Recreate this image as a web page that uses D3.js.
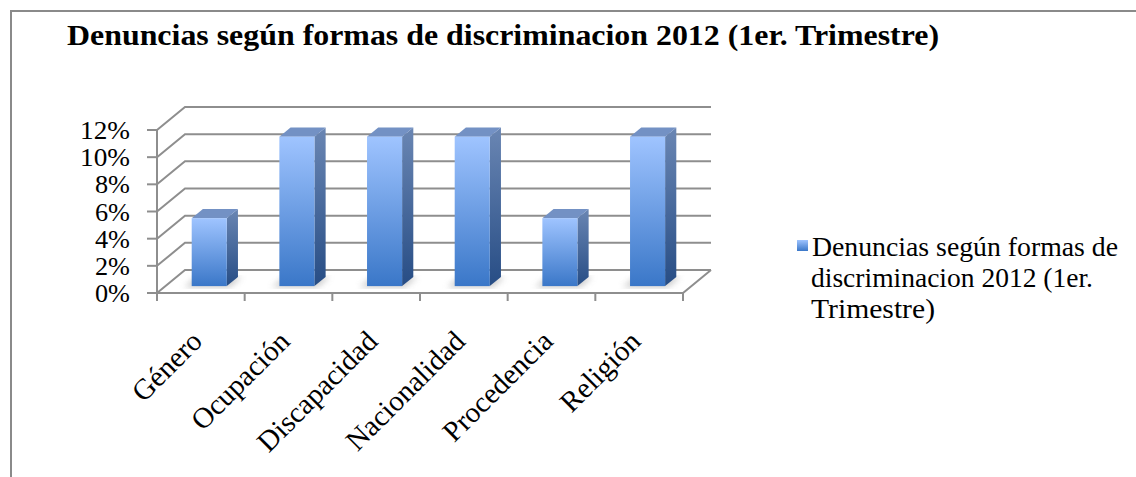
<!DOCTYPE html>
<html>
<head>
<meta charset="utf-8">
<script src="https://cdn.jsdelivr.net/npm/d3@7.9.0/dist/d3.min.js"></script>
<style>
  body { margin: 0; background: #fff; }
  svg { display: block; }
  svg text { font-family: "Liberation Serif", "DejaVu Serif", serif; fill: #000; }
</style>
</head>
<body>
<svg id="chart" width="1136" height="477"></svg>
<script>
const categories = ["Género", "Ocupación", "Discapacidad", "Nacionalidad", "Procedencia", "Religión"];
const values = [0.05, 0.11, 0.11, 0.11, 0.05, 0.11];
const yTicks = [0, 0.02, 0.04, 0.06, 0.08, 0.10, 0.12];
const title = "Denuncias según formas de discriminacion 2012 (1er. Trimestre)";
const legendLines = ["Denuncias según formas de", "discriminacion 2012 (1er.", "Trimestre)"];

const svg = d3.select("#chart");

// depth of the 3d box
const DX = 28, DY = 23;
const f0 = 0.3, f1 = 0.7;

const x = d3.scaleBand().domain(categories).range([157, 683]).paddingInner(0.6).paddingOuter(0.3);
const y = d3.scaleLinear().domain([0, 0.12]).range([293, 130]);
const p = (px, py, f) => [px + f * DX, py - f * DY];
const poly = pts => pts.map(d => d.join(",")).join(" ");

const defs = svg.append("defs");
function grad(id, c1, c2) {
  const g = defs.append("linearGradient").attr("id", id).attr("x1", 0).attr("y1", 0).attr("x2", 0).attr("y2", 1);
  g.append("stop").attr("offset", "0%").attr("stop-color", c1);
  g.append("stop").attr("offset", "100%").attr("stop-color", c2);
}
grad("front", "#9fc4ff", "#3a77c8");
grad("side", "#6a86b3", "#274d85");
defs.append("filter").attr("id", "blur").append("feGaussianBlur").attr("stdDeviation", 3);

// frame
svg.append("rect").attr("x", 11).attr("y", 11).attr("width", 1200).attr("height", 520)
  .attr("fill", "none").attr("stroke", "#8a8a8a").attr("stroke-width", 2);

svg.append("text").attr("x", 67).attr("y", 45)
  .attr("font-size", 29).attr("font-weight", "bold")
  .attr("textLength", 872).attr("lengthAdjust", "spacingAndGlyphs")
  .text(title);

const grid = svg.append("g").attr("stroke", "#8e8e8e").attr("stroke-width", 2).attr("fill", "none");
const [x0, x1] = x.range();

// back wall + left wall lines
yTicks.forEach(t => {
  const a = p(x0, y(t), 0), b = p(x0, y(t), 1), c = p(x1, y(t), 1);
  grid.append("polyline").attr("points", poly([a, b, c]));
  grid.append("line").attr("x1", x0 - 10).attr("x2", x0).attr("y1", y(t)).attr("y2", y(t));
});
// floor
grid.append("polyline").attr("points", poly([p(x0, y(0), 0), p(x1, y(0), 0), p(x1, y(0), 1)]));
grid.append("line").attr("x1", x0).attr("x2", x0).attr("y1", y(0.12)).attr("y2", y(0) + 8);
// category ticks
d3.range(categories.length + 1).forEach(i => {
  const tx = x0 + i * x.step();
  grid.append("line").attr("x1", tx).attr("x2", tx).attr("y1", y(0)).attr("y2", y(0) + 8);
});

// y labels
svg.append("g").selectAll("text").data(yTicks).join("text")
  .attr("x", 130).attr("y", d => y(d) + 9)
  .attr("text-anchor", "end").attr("font-size", 26)
  .attr("textLength", d => d >= 0.1 ? 50 : 35).attr("lengthAdjust", "spacingAndGlyphs")
  .text(d3.format(".0%"));

// bars
const bars = svg.append("g");
categories.forEach((c, i) => {
  const bx = x(c), w = x.bandwidth(), top = y(values[i]), bot = y(0);
  // shadow on floor
  bars.append("polygon")
    .attr("points", poly([p(bx - 6, bot, f0 - 0.05), p(bx + w + 4, bot, f0 - 0.05), p(bx + w + 4, bot, f1), p(bx - 6, bot, f1)]))
    .attr("fill", "#bbbbbb").attr("filter", "url(#blur)").attr("opacity", 0.8);
  bars.append("polygon")
    .attr("points", poly([p(bx + w, top, f0), p(bx + w, top, f1), p(bx + w, bot, f1), p(bx + w, bot, f0)]))
    .attr("fill", "url(#side)");
  bars.append("polygon")
    .attr("points", poly([p(bx, top, f0), p(bx + w, top, f0), p(bx + w, top, f1), p(bx, top, f1)]))
    .attr("fill", "#7391c4");
  const fa = p(bx, top, f0), fb = p(bx + w, bot, f0);
  bars.append("rect").attr("x", fa[0]).attr("y", fa[1]).attr("width", fb[0] - fa[0]).attr("height", fb[1] - fa[1])
    .attr("fill", "url(#front)");
});

// category labels
svg.append("g").selectAll("text").data(categories).join("text")
  .attr("transform", d => `translate(${x(d) + x.bandwidth() / 2 + 3},${y(0) + 50}) rotate(-45)`)
  .attr("text-anchor", "end").attr("font-size", 29)
  .text(d => d);

// legend
const legendWidths = [306, 282, 124];
const lg = svg.append("g");
lg.append("rect").attr("x", 797).attr("y", 240).attr("width", 11).attr("height", 11).attr("fill", "url(#front)");
lg.selectAll("text").data(legendLines).join("text")
  .attr("x", (d, i) => i === 0 ? 812 : 811).attr("y", (d, i) => 256 + i * 31)
  .attr("font-size", 27)
  .attr("textLength", (d, i) => legendWidths[i]).attr("lengthAdjust", "spacingAndGlyphs")
  .text(d => d);
</script>
</body>
</html>
